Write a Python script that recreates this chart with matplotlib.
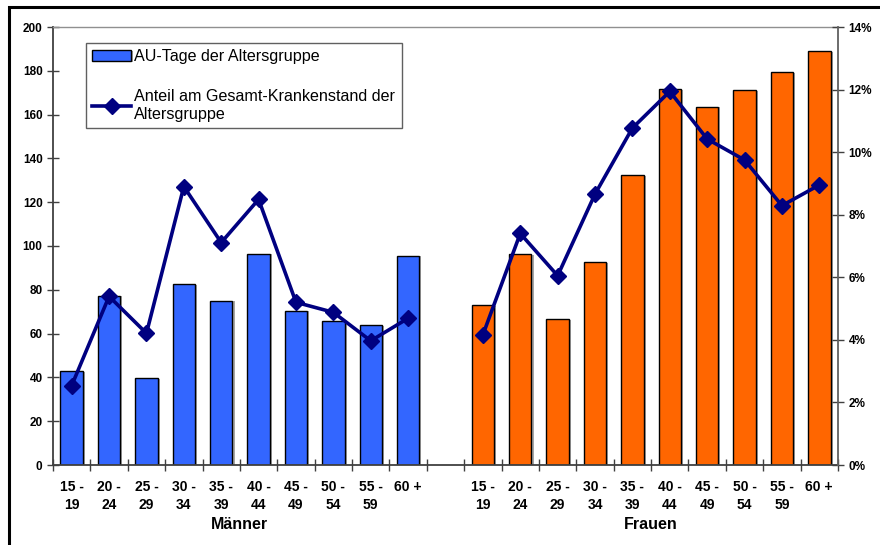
import numpy as np
import matplotlib
matplotlib.use("Agg")
import matplotlib.pyplot as plt
import matplotlib.patheffects as pe
from matplotlib.ticker import FuncFormatter, FixedLocator
from matplotlib.patches import Rectangle

plt.rcParams['font.family'] = ['Liberation Sans', 'DejaVu Sans']

age_groups = ["15 -\n19", "20 -\n24", "25 -\n29", "30 -\n34", "35 -\n39",
              "40 -\n44", "45 -\n49", "50 -\n54", "55 -\n59", "60 +"]
au_tage_maenner = [43, 77.3, 39.5, 82.6, 75, 96.5, 70.5, 65.7, 63.7, 95.6]
au_tage_frauen = [73, 96.3, 66.7, 92.7, 132.4, 171.7, 163.6, 171.2, 179.5, 188.9]
anteil_maenner = [2.54, 5.39, 4.21, 8.90, 7.11, 8.49, 5.20, 4.88, 3.97, 4.69]
anteil_frauen = [4.16, 7.40, 6.05, 8.66, 10.77, 11.94, 10.42, 9.75, 8.29, 8.95]
group_names = ["Männer", "Frauen"]

blue = "#3366FF"
orange = "#FF6600"
navy = "#000080"

n = len(age_groups)
x_m = np.arange(n)
x_w = np.arange(n) + n + 1
x_all = np.arange(2 * n + 1)
line_vals = np.array(anteil_maenner + [np.nan] + anteil_frauen) / 100.0

fig = plt.figure(figsize=(8.8, 5.45), dpi=100)
ax = fig.add_axes([53/880, 80/545, 785/880, 438/545])

shadow = [pe.SimplePatchShadow(offset=(1.5, -0.5), shadow_rgbFace="#808080",
                               alpha=0.7), pe.Normal()]
bw = 0.6
bars_m = ax.bar(x_m, au_tage_maenner, width=bw, color=blue, edgecolor="black",
                linewidth=1.0, zorder=2, label="AU-Tage der Altersgruppe")
bars_w = ax.bar(x_w, au_tage_frauen, width=bw, color=orange, edgecolor="black",
                linewidth=1.0, zorder=2)
for b in list(bars_m) + list(bars_w):
    b.set_path_effects(shadow)

ax.set_xlim(-0.5, 2 * n + 0.5)
ax.set_ylim(0, 200)
ax.set_yticks(np.arange(0, 201, 20))

ax.set_xticks(list(x_m) + list(x_w))
ax.set_xticklabels(age_groups + age_groups, fontsize=10, fontweight="bold",
                   linespacing=1.3, va="top")
ax.tick_params(axis="x", which="major", length=0, pad=11)
ax.xaxis.set_minor_locator(FixedLocator(np.arange(-0.5, 2 * n + 1, 1.0)))
ax.tick_params(axis="x", which="minor", length=9, direction="inout", width=1,
               color="#404040")
ax.tick_params(axis="y", length=8, direction="inout", width=1, color="#404040",
               labelsize=8.5)
for lab in ax.get_yticklabels():
    lab.set_fontweight("bold")

for s in ["left", "bottom"]:
    ax.spines[s].set_color("#404040")
    ax.spines[s].set_linewidth(1.3)
ax.spines["top"].set_color("#909090")
ax.spines["top"].set_linewidth(1.0)
ax.spines["right"].set_visible(False)

ax2 = ax.twinx()
ln, = ax2.plot(x_all, line_vals, color=navy, linewidth=2.6, marker="D",
               markersize=8, zorder=3,
               label="Anteil am Gesamt-Krankenstand der\nAltersgruppe")
ax2.set_ylim(0, 0.14)
ax2.set_yticks(np.arange(0, 0.141, 0.02))
ax2.yaxis.set_major_formatter(FuncFormatter(lambda v, p: f"{round(v*100):d}%"))
ax2.tick_params(axis="y", length=8, direction="inout", width=1, color="#404040",
                labelsize=8.5)
for lab in ax2.get_yticklabels():
    lab.set_fontweight("bold")
for s in ["left", "bottom", "top"]:
    ax2.spines[s].set_visible(False)
ax2.spines["right"].set_color("#606060")
ax2.spines["right"].set_linewidth(1.3)

# group labels
ax.text(np.mean(x_m), -0.136, group_names[0], transform=ax.get_xaxis_transform(),
        ha="center", va="center", fontsize=11.5, fontweight="bold")
ax.text(np.mean(x_w), -0.136, group_names[1], transform=ax.get_xaxis_transform(),
        ha="center", va="center", fontsize=11.5, fontweight="bold")

leg = ax2.legend([bars_m, ln], [bars_m.get_label(), ln.get_label()],
                 loc="upper left", bbox_to_anchor=(33/785, 422/438),
                 borderaxespad=0, fancybox=False, framealpha=1,
                 edgecolor="#606060", fontsize=11.6, labelspacing=1.55,
                 handlelength=2.4, handletextpad=0.2, borderpad=0.4)
leg.get_frame().set_linewidth(1.0)

# outer frame
fig.patches.append(Rectangle((9/880, -0.01), 1.0, (545 - 7)/545 + 0.01,
                             transform=fig.transFigure, fill=False,
                             edgecolor="black", linewidth=2.2))

fig.savefig("out.png", dpi=100)
